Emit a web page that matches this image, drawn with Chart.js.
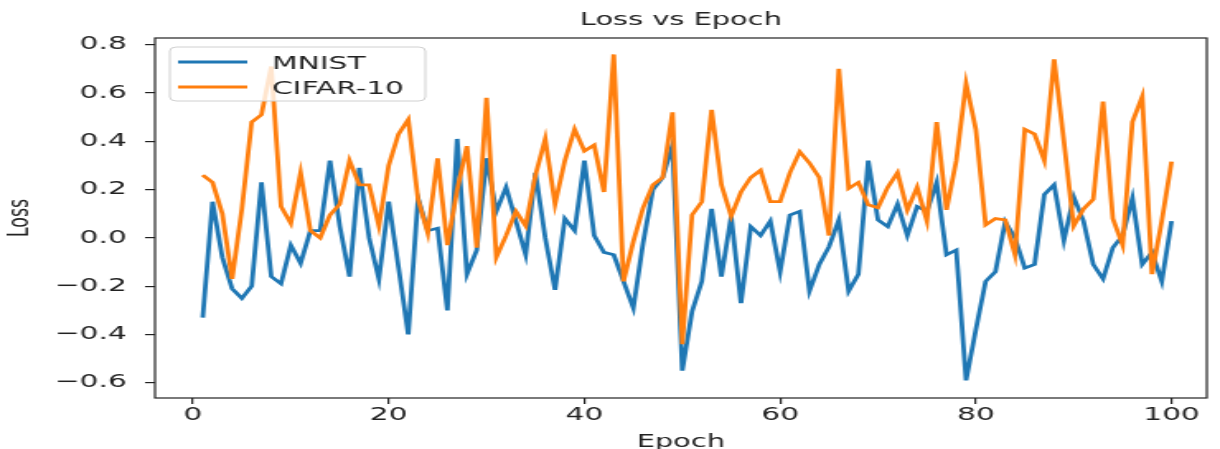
<!DOCTYPE html>
<html>
<head>
<meta charset="utf-8">
<script src="https://cdn.jsdelivr.net/npm/chart.js@4.4.1/dist/chart.umd.min.js"></script>
<style>
  html, body { margin: 0; padding: 0; background: #fff; overflow: hidden; }
  /* the reference is a stretched matplotlib image, so draw narrow and stretch */
  #wrap { width: 740px; height: 449px; transform: scaleX(1.6486); transform-origin: 0 0; }
</style>
</head>
<body>
<div id="wrap"><canvas id="lossChart" width="740" height="449"></canvas></div>
<script>
const epochs = [1,2,3,4,5,6,7,8,9,10,11,12,13,14,15,16,17,18,19,20,
  21,22,23,24,25,26,27,28,29,30,31,32,33,34,35,36,37,38,39,40,
  41,42,43,44,45,46,47,48,49,50,51,52,53,54,55,56,57,58,59,60,
  61,62,63,64,65,66,67,68,69,70,71,72,73,74,75,76,77,78,79,80,
  81,82,83,84,85,86,87,88,89,90,91,92,93,94,95,96,97,98,99,100];

const mnistLoss = [-0.33,0.15,-0.08,-0.21,-0.25,-0.20,0.23,-0.16,-0.19,-0.03,
  -0.105,0.03,0.03,0.32,0.05,-0.16,0.29,0.0,-0.17,0.15,
  -0.12,-0.40,0.165,0.03,0.04,-0.30,0.41,-0.15,-0.05,0.33,
  0.11,0.21,0.07,-0.07,0.27,0.0,-0.215,0.08,0.03,0.32,
  0.01,-0.06,-0.07,-0.18,-0.29,-0.02,0.20,0.25,0.385,-0.55,
  -0.305,-0.18,0.12,-0.16,0.09,-0.27,0.047,0.01,0.07,-0.14,
  0.095,0.11,-0.22,-0.11,-0.036,0.075,-0.22,-0.15,0.32,0.075,
  0.047,0.14,0.01,0.13,0.11,0.23,-0.07,-0.05,-0.59,-0.38,
  -0.18,-0.14,0.067,0.0,-0.125,-0.11,0.18,0.22,-0.01,0.17,
  0.07,-0.11,-0.17,-0.04,0.01,0.165,-0.11,-0.06,-0.18,0.07];

const cifarLoss = [0.26,0.23,0.10,-0.17,0.12,0.48,0.51,0.71,0.13,0.06,
  0.27,0.03,0.0,0.095,0.14,0.32,0.22,0.22,0.05,0.30,
  0.43,0.49,0.16,0.02,0.33,-0.03,0.20,0.38,-0.04,0.58,
  -0.08,0.01,0.11,0.05,0.26,0.41,0.14,0.32,0.45,0.36,
  0.385,0.19,0.76,-0.18,-0.015,0.125,0.22,0.25,0.52,-0.44,
  0.095,0.15,0.53,0.22,0.09,0.19,0.25,0.28,0.15,0.15,
  0.27,0.357,0.31,0.25,0.01,0.70,0.205,0.23,0.137,0.125,
  0.21,0.27,0.116,0.21,0.07,0.48,0.116,0.32,0.64,0.45,
  0.054,0.08,0.075,-0.07,0.45,0.43,0.32,0.74,0.40,0.05,
  0.12,0.16,0.565,0.08,-0.03,0.48,0.585,-0.15,0.07,0.316];

const xTicks = [0,20,40,60,80,100];
const yTicks = [-0.6,-0.4,-0.2,0.0,0.2,0.4,0.6,0.8];

const seriesNames = ['MNIST','CIFAR-10'];
const seriesColors = ['#1f77b4','#ff7f0e'];

const FONT = 'DejaVu Sans';

function toPoints(xs, ys) {
  return xs.map((x, i) => ({x: x, y: ys[i]}));
}

// matplotlib-like frame on all four sides
const framePlugin = {
  id: 'frame',
  afterDatasetsDraw(chart) {
    const a = chart.chartArea;
    const ctx = chart.ctx;
    ctx.save();
    ctx.strokeStyle = '#222';
    ctx.lineWidth = 1.2;
    ctx.strokeRect(a.left, a.top, a.right - a.left, a.bottom - a.top);
    ctx.restore();
  }
};

// legend box drawn inside the axes, upper left
const legendPlugin = {
  id: 'innerLegend',
  afterDraw(chart) {
    const ctx = chart.ctx;
    const x = 103, y = 47, w = 155, h = 54;
    ctx.save();
    ctx.beginPath();
    ctx.roundRect(x, y, w, h, 4);
    ctx.fillStyle = 'rgba(255,255,255,0.8)';
    ctx.fill();
    ctx.strokeStyle = '#d0d0d0';
    ctx.lineWidth = 1;
    ctx.stroke();
    const rows = [62, 87];
    chart.data.datasets.forEach((ds, i) => {
      ctx.beginPath();
      ctx.moveTo(108, rows[i]);
      ctx.lineTo(150, rows[i]);
      ctx.strokeStyle = ds.borderColor;
      ctx.lineWidth = 2.8;
      ctx.stroke();
      ctx.fillStyle = '#222';
      ctx.font = '18px "' + FONT + '"';
      ctx.textBaseline = 'middle';
      ctx.fillText(ds.label, 165, rows[i] + 2);
    });
    ctx.restore();
  }
};

const ctx = document.getElementById('lossChart').getContext('2d');

new Chart(ctx, {
  type: 'line',
  data: {
    datasets: [
      {
        label: seriesNames[0],
        data: toPoints(epochs, mnistLoss),
        borderColor: seriesColors[0],
        backgroundColor: seriesColors[0],
        borderWidth: 2.8,
        pointRadius: 0,
        tension: 0,
        order: 1
      },
      {
        label: seriesNames[1],
        data: toPoints(epochs, cifarLoss),
        borderColor: seriesColors[1],
        backgroundColor: seriesColors[1],
        borderWidth: 2.8,
        pointRadius: 0,
        tension: 0,
        order: 0
      }
    ]
  },
  options: {
    responsive: false,
    animation: false,
    layout: { padding: { left: 0, right: 8, top: 0, bottom: 0 } },
    plugins: {
      legend: { display: false },
      tooltip: { enabled: false },
      title: {
        display: true,
        text: 'Loss vs Epoch',
        fullSize: false,
        color: '#222',
        font: { family: FONT, size: 17.5, weight: 'normal', lineHeight: 1.2 },
        padding: { top: 10, bottom: 7 }
      }
    },
    scales: {
      x: {
        type: 'linear',
        min: -3.88,
        max: 103.6,
        afterBuildTicks: (scale) => { scale.ticks = xTicks.map(v => ({value: v})); },
        afterFit: (scale) => { scale.height = 51; },
        grid: { display: true, drawOnChartArea: false, drawTicks: true, tickLength: 6, color: '#222', lineWidth: 1.2 },
        border: { display: false },
        ticks: {
          color: '#222',
          padding: 1,
          maxRotation: 0,
          font: { family: FONT, size: 18 },
          callback: (v) => String(v)
        },
        title: {
          display: true,
          text: 'Epoch',
          color: '#222',
          font: { family: FONT, size: 17.5, lineHeight: 1 },
          padding: { top: 0, bottom: -2 }
        }
      },
      y: {
        type: 'linear',
        min: -0.663,
        max: 0.828,
        afterBuildTicks: (scale) => { scale.ticks = yTicks.map(v => ({value: v})); },
        afterFit: (scale) => { scale.width = 94; },
        grid: { display: true, drawOnChartArea: false, drawTicks: true, tickLength: 6, color: '#222', lineWidth: 1.2 },
        border: { display: false },
        ticks: {
          color: '#222',
          padding: 11,
          font: { family: FONT, size: 18 },
          callback: (v) => v.toFixed(1).replace('-', '\u2212')
        },
        title: {
          display: true,
          text: 'Loss',
          color: '#222',
          font: { family: FONT, size: 17.5, lineHeight: 1.2 },
          padding: { top: 2, bottom: 0 }
        }
      }
    }
  },
  plugins: [framePlugin, legendPlugin]
});
</script>
</body>
</html>
